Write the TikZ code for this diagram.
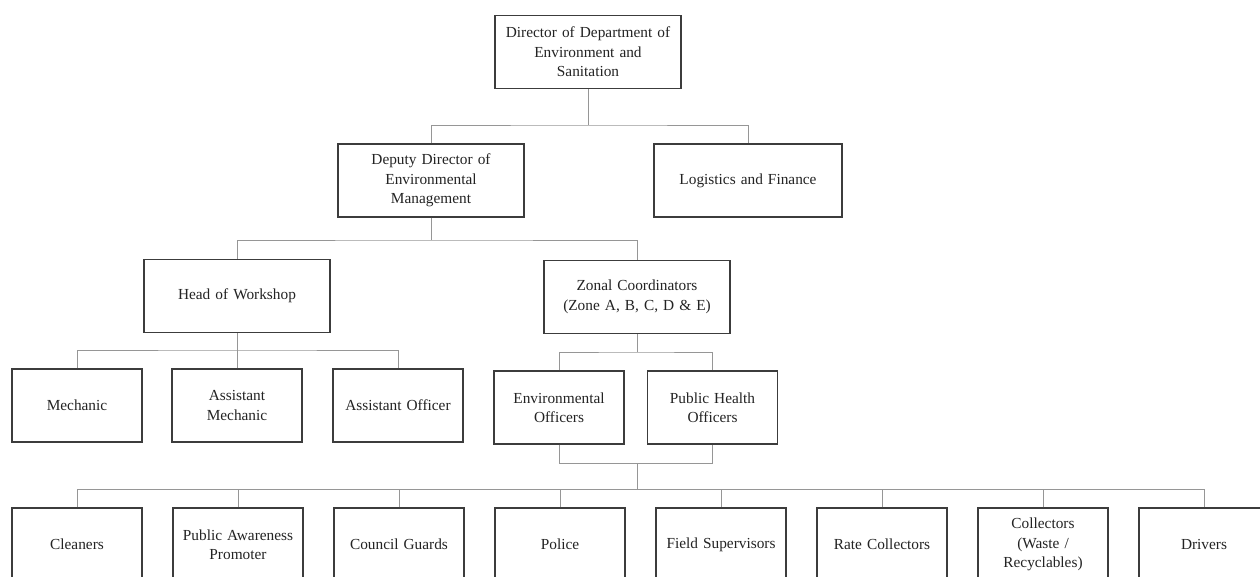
\documentclass[tikz,border=0pt]{standalone}
\usepackage{fontspec}
\setmainfont{Liberation Serif}
\definecolor{boxline}{RGB}{60,60,60}
\definecolor{linkgray}{RGB}{150,150,150}
\definecolor{inkgray}{RGB}{35,35,35}
\newcommand\orgfont{\fontsize{11.5}{14.6}\selectfont\spaceskip=0.33em plus 0.1em\relax}
\tikzset{
  orgbox/.style={draw=boxline, line width=0.9pt, fill=white, inner sep=0pt, align=center,
    text=inkgray, minimum width=139.5pt, minimum height=54.75pt, font=\orgfont},
  staffbox/.style={orgbox, minimum width=97.5pt},
  link/.style={draw=linkgray, line width=0.75pt}
}
\begin{document}
\begin{tikzpicture}[x=0.75pt,y=0.75pt,yscale=-1,xscale=1]
\useasboundingbox (0,0) rectangle (1260,576);

% top levels
\node[orgbox] (dir) at (588,52) {Director of Department of\\Environment and\\Sanitation};
\node[orgbox] (dep) at (431,180.5) {Deputy Director of\\Environmental\\Management};
\node[orgbox, minimum width=141pt] (logfin) at (748,180.5) {Logistics and Finance};

% middle level
\node[orgbox] (head) at (237,296) {Head of Workshop};
\node[orgbox] (zonal) at (637,297) {Zonal Coordinators\\(Zone A, B, C, D \& E)};

% workshop staff
\node[staffbox] (mech) at (77,405.5) {Mechanic};
\node[staffbox] (amech) at (237,405.5) {Assistant\\Mechanic};
\node[staffbox] (aoff) at (398,405.5) {Assistant Officer};

% officers
\node[staffbox] (envoff) at (559,407.5) {Environmental\\Officers};
\node[staffbox] (phoff) at (712.5,407.5) {Public Health\\Officers};

% field staff
\node[staffbox] (clean) at (77,544.5) {Cleaners};
\node[staffbox] (aware) at (238,544.5) {Public Awareness\\Promoter};
\node[staffbox] (guard) at (399,544.5) {Council Guards};
\node[staffbox] (police) at (560,544.5) {Police};
\node[staffbox] (field) at (721,544.5) {Field Supervisors};
\node[staffbox] (rate) at (882,544.5) {Rate Collectors};
\node[staffbox] (coll) at (1043,544.5) {Collectors\\(Waste /\\Recyclables)};
\node[staffbox] (drive) at (1204,544.5) {Drivers};

% junctions
\coordinate (j1) at (588,125);
\coordinate (j2) at (431,240);
\coordinate (j3) at (237,350);
\coordinate (j4) at (637,352);
\coordinate (j5) at (637,463);
\coordinate (j6) at (637,489);

% connectors
\draw[link] (dir.south) -- (j1);
\draw[link] (dep.north) |- (j1) -| (logfin.north);
\draw[link] (dep.south) -- (j2);
\draw[link] (head.north) |- (j2) -| (zonal.north);
\draw[link] (head.south) -- (j3);
\draw[link] (mech.north) |- (j3) -| (aoff.north);
\draw[link] (amech.north) -- (j3);
\draw[link] (zonal.south) -- (j4);
\draw[link] (envoff.north) |- (j4) -| (phoff.north);
\draw[link] (envoff.south) |- (j5) -| (phoff.south);
\draw[link] (j5) -- (j6);
\draw[link] (clean.north) |- (j6) -| (drive.north);
\foreach \n in {aware,guard,police,field,rate,coll}
  \draw[link] (\n.north) -- (\n.north |- j6);

\end{tikzpicture}
\end{document}
